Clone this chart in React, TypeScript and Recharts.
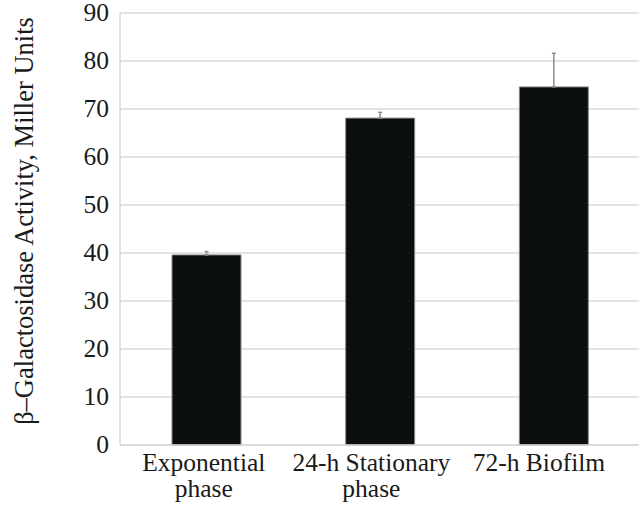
import React from 'react';
import { BarChart, Bar, XAxis, YAxis, CartesianGrid, ErrorBar, Label } from 'recharts';

const categories = ['Exponential phase', '24-h Stationary phase', '72-h Biofilm'];
const tickLines = [['Exponential', 'phase'], ['24-h Stationary', 'phase'], ['72-h Biofilm']];
const activity = [39.6, 68.1, 74.6];
const errPlus = [0.7, 1.2, 7.0];
const yTicks = [0, 10, 20, 30, 40, 50, 60, 70, 80, 90];

const data = categories.map((name, i) => ({
    name,
    value: activity[i],
    err: [0, errPlus[i]],
}));

const serif = "'Liberation Serif', 'Times New Roman', serif";
const tickStyle = { fontFamily: serif, fontSize: 25.5, fill: '#1a1a1a' };
const titleStyle = { fontFamily: serif, fontSize: 26.5, fill: '#1a1a1a' };

const XTick = (props: any) => {
    const { x, y, index } = props;
    const lines = tickLines[index] || [];
    // labels sit slightly left of band centres in the original
    const cx = 120 + (x - 120) * 0.965;
    return (
        <text x={cx} y={y} textAnchor="middle" style={tickStyle}>
            {lines.map((l, i) => (
                <tspan key={i} x={cx} y={y + 26 + i * 26}>{l}</tspan>
            ))}
        </text>
    );
};

const YTick = (props: any) => {
    const { x, y, payload } = props;
    return (
        <text x={x} y={y} dy={8} textAnchor="end" style={tickStyle}>
            {payload.value}
        </text>
    );
};

const YTitle = () => (
    <text
        x={24}
        y={221}
        transform="rotate(-90, 24, 221)"
        textAnchor="middle"
        dominantBaseline="central"
        style={titleStyle}
    >
        β–Galactosidase Activity, Miller Units
    </text>
);

export default function App() {
    return (
        <div style={{ position: 'fixed', left: 0, top: 0, width: 639, height: 519, overflow: 'hidden', background: '#fff' }}>
            <BarChart width={641} height={519} data={data} margin={{ top: 13, right: 0, bottom: 0, left: 0 }}>
                <CartesianGrid vertical={false} stroke="#d9d9d9" strokeWidth={1.5} />
                <XAxis
                    dataKey="name"
                    height={74}
                    tickLine={false}
                    tickSize={0}
                    tickMargin={0}
                    axisLine={{ stroke: '#d9d9d9', strokeWidth: 1.5 }}
                    tick={<XTick />}
                    interval={0}
                />
                <YAxis
                    width={120}
                    domain={[0, 90]}
                    ticks={yTicks}
                    tickLine={false}
                    tickSize={0}
                    tickMargin={11}
                    axisLine={{ stroke: '#d9d9d9', strokeWidth: 1.5 }}
                    tick={<YTick />}
                >
                    <Label content={<YTitle />} />
                </YAxis>
                <Bar dataKey="value" fill="#0c0f10" stroke="#8a8a8a" strokeWidth={1} barSize={69} isAnimationActive={false}>
                    <ErrorBar dataKey="err" width={2} stroke="#8c8c8c" strokeWidth={1.5} isAnimationActive={false} />
                </Bar>
            </BarChart>
        </div>
    );
}
